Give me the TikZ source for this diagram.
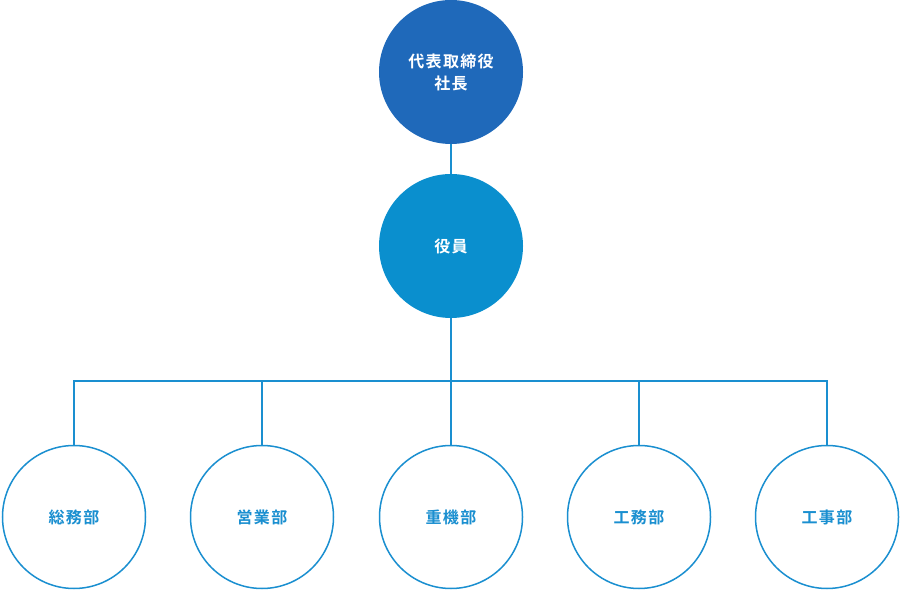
\documentclass[tikz,border=0pt]{standalone}
\usepackage{fontspec}
\setmainfont{Noto Sans CJK JP}[BoldFont={Noto Sans CJK JP Bold},LetterSpace=8]
\usetikzlibrary{positioning}
\definecolor{topblue}{HTML}{1F69BA}
\definecolor{midblue}{HTML}{0A8FCE}
\definecolor{linkblue}{HTML}{1A8FD0}
\tikzset{
  chief/.style={circle, fill=topblue, minimum size=144pt, inner sep=0pt, text=white, font=\bfseries\fontsize{16pt}{22pt}\selectfont, align=center},
  board/.style={circle, fill=midblue, minimum size=144pt, inner sep=0pt, text=white, font=\bfseries\fontsize{16pt}{22pt}\selectfont},
  dept/.style={circle, draw=linkblue, line width=1.5pt, fill=white, minimum size=143pt, inner sep=0pt, text=linkblue, font=\bfseries\fontsize{16pt}{22pt}\selectfont},
  link/.style={draw=linkblue, line width=1.3pt}
}
\begin{document}
\begin{tikzpicture}[x=1pt,y=1pt]
  \useasboundingbox (0,0) rectangle (901,591);

  \node[chief] (president) at (451,519) {代表取締役\\社長};
  \node[board] (officers) at (451,345) {役員};
  \coordinate (bar) at (451,210);

  \node[dept] (general) at (74,74) {総務部};
  \node[dept] (sales) at (262,74) {営業部};
  \node[dept] (machinery) at (451,74) {重機部};
  \node[dept] (works) at (639,74) {工務部};
  \node[dept] (construction) at (827,74) {工事部};

  \draw[link] (president) -- (officers);
  \draw[link] (officers) -- (bar);
  \draw[link] (general.north) |- (bar) -| (construction.north);
  \draw[link] (sales.north) -- (sales.north |- bar);
  \draw[link] (machinery.north) -- (bar);
  \draw[link] (works.north) -- (works.north |- bar);
\end{tikzpicture}
\end{document}
